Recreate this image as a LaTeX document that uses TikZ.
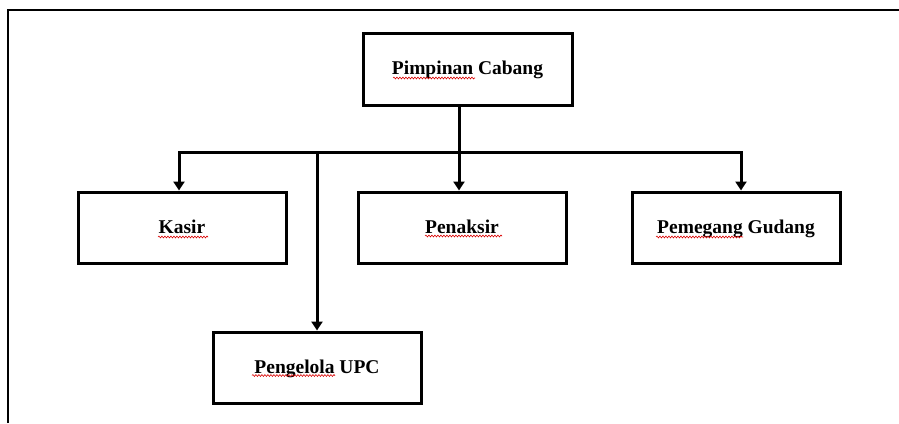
\documentclass[tikz,border=0pt]{standalone}
\usepackage{fontspec}
\setmainfont{Liberation Serif}
\usetikzlibrary{arrows.meta,decorations.pathmorphing}
\begin{document}
\begin{tikzpicture}[x=1pt,y=-1pt,
  box/.style={draw,line width=3pt,minimum width=208pt,minimum height=71pt,inner sep=0pt,
    text height=14pt,text depth=3pt,font=\fontsize{19.5}{22}\selectfont\bfseries},
  conn/.style={line width=3pt},
  arr/.style={conn,-{Triangle[width=11pt,length=9pt]}},
  arr2/.style={conn,{Triangle[width=11pt,length=9pt]}-{Triangle[width=11pt,length=9pt]}},
  squig/.style={red!85!black,line width=0.6pt,decorate,decoration={snake,amplitude=0.9pt,segment length=3pt}}]
\useasboundingbox (0,0) rectangle (899,423);
\draw[line width=2pt] (8,423) -- (8,10) -- (899,10);
\node[box,minimum width=209pt,minimum height=72pt] (pim) at (467.5,69) {Pimpinan Cabang};
\node[box] (kas) at (182,227.5) {Kasir};
\node[box] (pen) at (462,227.5) {Penaksir};
\node[box] (gud) at (736,227.5) {Pemegang Gudang};
\node[box] (upc) at (317,367.5) {Pengelola UPC};
\coordinate (bus) at (459,152);
\coordinate (br) at (317,152);
\draw[arr] ([xshift=-8.5pt]pim.south) -- ([xshift=-3pt]pen.north);
\draw[arr2] ([xshift=-3pt]kas.north) |- (bus) -| ([xshift=5pt]gud.north);
\draw[arr] (br) -- (upc.north);
% spell-check underlines
\draw[squig] (393,78) -- (475,78);
\draw[squig] (158,237) -- (208,237);
\draw[squig] (425,236) -- (502,236);
\draw[squig] (656,237) -- (743,237);
\draw[squig] (252,375.5) -- (335,375.5);
\end{tikzpicture}
\end{document}
